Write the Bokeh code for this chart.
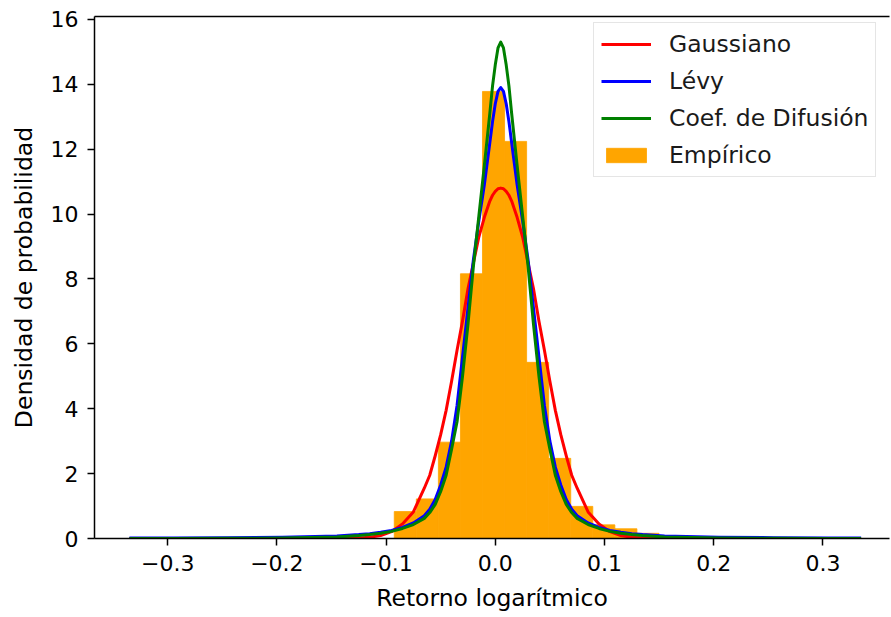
from bokeh.plotting import figure
from bokeh.models import (ColumnDataSource, FixedTicker, Legend, LegendItem,
                          LinearAxis, Range1d)
from bokeh.embed import file_html
from bokeh.resources import INLINE

# ---------------- data ----------------
x_ticks = [-0.3, -0.2, -0.1, 0.0, 0.1, 0.2, 0.3]
x_tick_labels = ["\u22120.3", "\u22120.2", "\u22120.1", "0.0", "0.1", "0.2", "0.3"]
y_ticks = [0, 2, 4, 6, 8, 10, 12, 14, 16]

# Histogram (Empírico): bin edges and densities
bin_edges = [-0.0925, -0.0723, -0.0521, -0.0319, -0.0117, 0.0085, 0.0287,
             0.0489, 0.0691, 0.0893, 0.1095, 0.1297, 0.1499]
bin_heights = [0.83, 1.22, 2.97, 8.16, 13.78, 12.24, 5.43, 2.47, 0.99,
               0.42, 0.30, 0.16]

# Fitted curves sampled along the return axis
curve_x = [-0.335, -0.295, -0.245, -0.195, -0.145, -0.125, -0.115, -0.105,
           -0.095, -0.085, -0.075, -0.065, -0.06, -0.055, -0.05, -0.045,
           -0.04, -0.035, -0.03, -0.025, -0.02, -0.015, -0.01, -0.005,
           -0.0025, 0.0, 0.0025, 0.005,
           0.0075, 0.01, 0.0125, 0.015, 0.02, 0.025, 0.03, 0.035, 0.04,
           0.045, 0.05, 0.055, 0.06, 0.065, 0.07, 0.075, 0.085, 0.095, 0.105,
           0.115, 0.125, 0.135, 0.155, 0.205, 0.255, 0.305, 0.335]

gauss_y = [0.0, 0.0, 0.0, 0.0, 0.002, 0.015, 0.04, 0.09, 0.21, 0.45, 0.82,
           1.55, 1.95, 2.55, 3.2, 3.95, 4.85, 5.8, 6.7, 7.7, 8.5, 9.3, 9.9,
           10.4, 10.58, 10.7, 10.78, 10.8,
           10.78, 10.7, 10.58, 10.4, 9.9, 9.3, 8.5, 7.7, 6.7, 5.8, 4.85,
           3.95, 3.2, 2.55, 1.95, 1.55, 0.82, 0.45, 0.21, 0.09, 0.04, 0.015,
           0.002, 0.0, 0.0, 0.0, 0.0]

levy_y = [0.013, 0.017, 0.025, 0.04, 0.08, 0.12, 0.15, 0.19, 0.25, 0.34,
          0.48, 0.70, 0.9, 1.2, 1.65, 2.2, 3.0, 4.1, 5.6, 7.1, 8.6, 9.8,
          10.9, 12.2, 12.85, 13.4, 13.78, 13.9,
          13.78, 13.4, 12.85, 12.2, 10.9, 9.8, 8.6, 7.1, 5.6, 4.1, 3.0, 2.2,
          1.65, 1.2, 0.9, 0.70, 0.48, 0.34, 0.25, 0.19, 0.15, 0.12, 0.08,
          0.04, 0.025, 0.017, 0.013]

difus_y = [0.002, 0.003, 0.006, 0.015, 0.05, 0.09, 0.12, 0.16, 0.22, 0.31,
           0.43, 0.62, 0.8, 1.05, 1.45, 1.95, 2.75, 3.6, 5.0, 6.6, 8.4, 9.95,
           11.5, 13.1, 13.95, 14.6, 15.12, 15.3,
           15.12, 14.6, 13.95, 13.1, 11.5, 9.95, 8.4, 6.6, 5.0, 3.6, 2.75,
           1.95, 1.45, 1.05, 0.8, 0.62, 0.43, 0.31, 0.22, 0.16, 0.12, 0.09,
           0.05, 0.015, 0.006, 0.003, 0.002]

# ---------------- figure ----------------
FONT = "DejaVu Sans"

p = figure(width=891, height=617,
           x_range=Range1d(-0.367, 0.361), y_range=Range1d(0, 16.09),
           output_backend="svg", toolbar_location=None,
           min_border_left=94, min_border_right=2,
           min_border_top=16, min_border_bottom=79)
p.xgrid.visible = False
p.ygrid.visible = False
p.outline_line_color = None
p.background_fill_color = "white"
p.border_fill_color = "white"

hist_src = ColumnDataSource(dict(left=bin_edges[:-1], right=bin_edges[1:],
                                 top=bin_heights))
r_hist = p.quad(left="left", right="right", bottom=0, top="top",
                source=hist_src, fill_color="#ffa500", line_color="#ffa500",
                line_width=0.8)

curve_src = ColumnDataSource(dict(x=curve_x, g=gauss_y, l=levy_y, d=difus_y))
r_g = p.line("x", "g", source=curve_src, line_color="#ff0000", line_width=3,
             line_join="round")
r_l = p.line("x", "l", source=curve_src, line_color="#0000ff", line_width=3,
             line_join="round")
r_d = p.line("x", "d", source=curve_src, line_color="#008000", line_width=3,
             line_join="round")

# axes
p.xaxis.ticker = FixedTicker(ticks=x_ticks)
p.xaxis.major_label_overrides = {t: s for t, s in zip(x_ticks, x_tick_labels)}
p.yaxis.ticker = FixedTicker(ticks=y_ticks)
p.xaxis.axis_label = "Retorno logarítmico"
p.yaxis.axis_label = "Densidad de probabilidad"

for ax in (p.xaxis[0], p.yaxis[0]):
    ax.axis_line_color = "black"
    ax.axis_line_width = 1.5
    ax.major_tick_line_color = "black"
    ax.major_tick_line_width = 1.5
    ax.major_tick_out = 7
    ax.major_tick_in = 0
    ax.minor_tick_line_color = None
    ax.major_label_text_font = FONT
    ax.major_label_text_font_size = "22px"
    ax.major_label_text_color = "black"
    ax.major_label_standoff = 9
    ax.axis_label_text_font = FONT
    ax.axis_label_text_font_size = "23.5px"
    ax.axis_label_text_font_style = "normal"
    ax.axis_label_text_color = "black"
    ax.axis_label_standoff = 10

# top spine
top = LinearAxis(ticker=FixedTicker(ticks=[]), axis_line_color="black",
                 axis_line_width=1.5, major_tick_line_color=None,
                 minor_tick_line_color=None,
                 major_label_text_font_size="0px")
p.add_layout(top, "above")

legend = Legend(items=[
    LegendItem(label="Gaussiano", renderers=[r_g]),
    LegendItem(label="Lévy", renderers=[r_l]),
    LegendItem(label="Coef. de Difusión", renderers=[r_d]),
    LegendItem(label="Empírico", renderers=[r_hist]),
], location=(499, 361))
legend.label_text_font = FONT
legend.label_text_font_size = "23.5px"
legend.label_text_color = "#1a1a1a"
legend.glyph_width = 50
legend.glyph_height = 18
legend.label_standoff = 18
legend.label_height = 27
legend.spacing = 9
legend.padding = 7
legend.margin = 0
legend.border_line_color = "#cccccc"
legend.border_line_width = 1.2
legend.background_fill_color = "white"
legend.background_fill_alpha = 0.8
p.add_layout(legend)

open("out.html", "w").write(file_html(p, INLINE))
